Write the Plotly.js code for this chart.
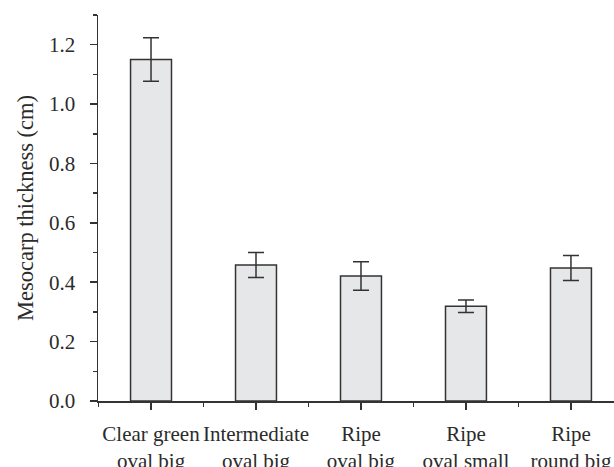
<!DOCTYPE html>
<html>
<head>
<meta charset="utf-8">
<script src="https://cdn.plot.ly/plotly-3.0.1.min.js"></script>
<style>html,body{margin:0;padding:0;background:#fff;}#chart{width:614px;height:467px;}</style>
</head>
<body>
<div id="chart"></div>
<script>
const categories = ["Clear green<br>oval big", "Intermediate<br>oval big", "Ripe<br>oval big", "Ripe<br>oval small", "Ripe<br>round big"];
const thickness = [1.15, 0.458, 0.421, 0.319, 0.448];
const errors = [0.073, 0.042, 0.048, 0.021, 0.042];
const yTickVals = [0, 0.2, 0.4, 0.6, 0.8, 1.0, 1.2];
const yTickText = ["0.0", "0.2", "0.4", "0.6", "0.8", "1.0", "1.2"];

const positions = categories.map((c, i) => i);
const ink = '#333333';
const family = 'Liberation Serif, DejaVu Serif, serif';
const tickFont = {family: family, size: 21, color: '#2b2b2b'};
const titleFont = {family: family, size: 22.5, color: '#2b2b2b'};

const trace = {
  type: 'bar',
  x: positions,
  y: thickness,
  width: 0.39,
  marker: {color: '#e6e7e9', line: {color: ink, width: 1.5}},
  error_y: {type: 'data', array: errors, visible: true, color: ink, thickness: 1.5, width: 8},
  hoverinfo: 'skip'
};

const layout = {
  width: 614, height: 467,
  margin: {l: 98, r: 0, t: 15, b: 66, pad: 0},
  paper_bgcolor: '#ffffff', plot_bgcolor: '#ffffff',
  font: tickFont,
  showlegend: false,
  xaxis: {
    type: 'linear',
    range: [-0.505, 4.41],
    tickvals: positions,
    ticktext: categories,
    ticks: 'outside', ticklen: 7, tickwidth: 1.5, tickcolor: ink,
    ticklabelstandoff: 6,
    showline: true, linecolor: ink, linewidth: 1.5,
    showgrid: false, zeroline: false,
    tickfont: tickFont,
    minor: {tick0: 0.5, dtick: 1, ticks: 'outside', ticklen: 4, tickwidth: 1.5, tickcolor: ink, showgrid: false}
  },
  yaxis: {
    range: [0, 1.3],
    tickvals: yTickVals,
    ticktext: yTickText,
    ticks: 'outside', ticklen: 7, tickwidth: 1.5, tickcolor: ink,
    ticklabelstandoff: 10,
    showline: true, linecolor: ink, linewidth: 1.5,
    showgrid: false, zeroline: false,
    tickfont: tickFont,
    minor: {tick0: 0.1, dtick: 0.2, ticks: 'outside', ticklen: 4, tickwidth: 1.5, tickcolor: ink, showgrid: false},
    title: {text: 'Mesocarp thickness (cm)', font: titleFont, standoff: 9}
  }
};

Plotly.newPlot('chart', [trace], layout, {displayModeBar: false, staticPlot: true});
</script>
</body>
</html>
